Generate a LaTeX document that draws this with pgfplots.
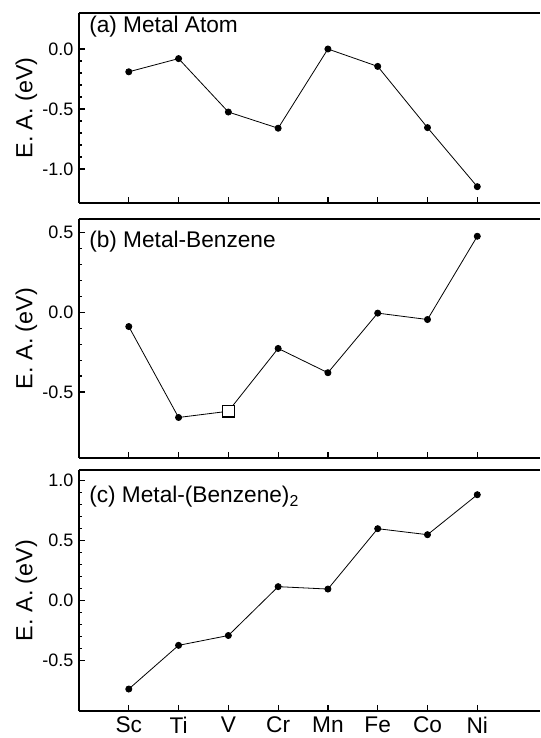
\documentclass[border=0pt]{standalone}
\usepackage{fontspec}
\setmainfont{Liberation Sans}
\usepackage{pgfplots}
\pgfplotsset{compat=1.18}

\pgfplotsset{
  panel/.style={
    width=345.75pt, scale only axis,
    xmin=0, xmax=9.26,
    axis lines*=left, tick align=inside,
    axis line style={line width=1.1pt},
    major tick length=4.5pt, minor tick length=2.25pt,
    every tick/.style={black, line width=0.9pt},
    xtick={1,...,8}, xticklabels={},
    minor y tick num=4,
    /pgf/number format/assume math mode=true,
    yticklabel style={font=\fontsize{13.5}{15}\selectfont, xshift=-0.75pt,
      /pgf/number format/.cd, fixed, fixed zerofill, precision=1},
    ylabel={E. A. (eV)},
    ylabel style={at={(axis description cs:-0.1142,0.5)}, anchor=center,
      font=\fontsize{17.5}{19}\selectfont},
    clip=false,
    extra description/.code={
      \draw[line width=1.1pt] (axis description cs:0,1) -- (axis description cs:1,1);},
  },
  ea/.style={black, line width=0.6pt, mark=*, mark size=2.3pt},
}
\tikzset{ttl/.style={anchor=west, inner sep=0pt, font=\fontsize{17}{19}\selectfont}}

\begin{document}
\begin{tikzpicture}
\useasboundingbox (-59.25pt,-20.25pt) rectangle (345.75pt,533.25pt);

% (a) metal atom
\begin{axis}[panel, at={(0,381pt)}, anchor=south west, height=142.5pt,
    ymin=-1.283, ymax=0.3, ytick={-1,-0.5,0}]
\addplot[ea] coordinates {
    (1,-0.19) (2,-0.08) (3,-0.525) (4,-0.66)
    (5,0.0) (6,-0.145) (7,-0.655) (8,-1.147)
};
\node[ttl] at (axis description cs:0.0217,0.926) {(a) Metal Atom};
\end{axis}

% (b) metal-benzene
\begin{axis}[panel, at={(0,189.75pt)}, anchor=south west, height=179.25pt,
    ymin=-0.9125, ymax=0.583, ytick={-0.5,0,0.5}]
\addplot[ea] coordinates {
    (1,-0.09) (2,-0.659) (3,-0.62) (4,-0.227)
    (5,-0.379) (6,-0.006) (7,-0.046) (8,0.475)
};
\addplot[only marks, mark=square*, mark size=4.4pt,
    mark options={draw=black, fill=white, line width=1pt}] coordinates {(3,-0.62)};
\node[ttl] at (axis description cs:0.0217,0.905) {(b) Metal-Benzene};
\end{axis}

% (c) metal-(benzene)2
\begin{axis}[panel, at={(0,0)}, anchor=south west, height=180.75pt,
    ymin=-0.919, ymax=1.089, ytick={-0.5,0,0.5,1},
    xticklabels={Sc,Ti,V,Cr,Mn,Fe,Co,Ni},
    xticklabel style={font=\fontsize{17}{19}\selectfont, yshift=-1pt}]
\addplot[ea] coordinates {
    (1,-0.736) (2,-0.372) (3,-0.29) (4,0.117)
    (5,0.097) (6,0.6) (7,0.55) (8,0.883)
};
\node[ttl] at (axis description cs:0.0217,0.888) {(c) Metal-(Benzene)\textsubscript{2}};
\end{axis}
\end{tikzpicture}
\end{document}
